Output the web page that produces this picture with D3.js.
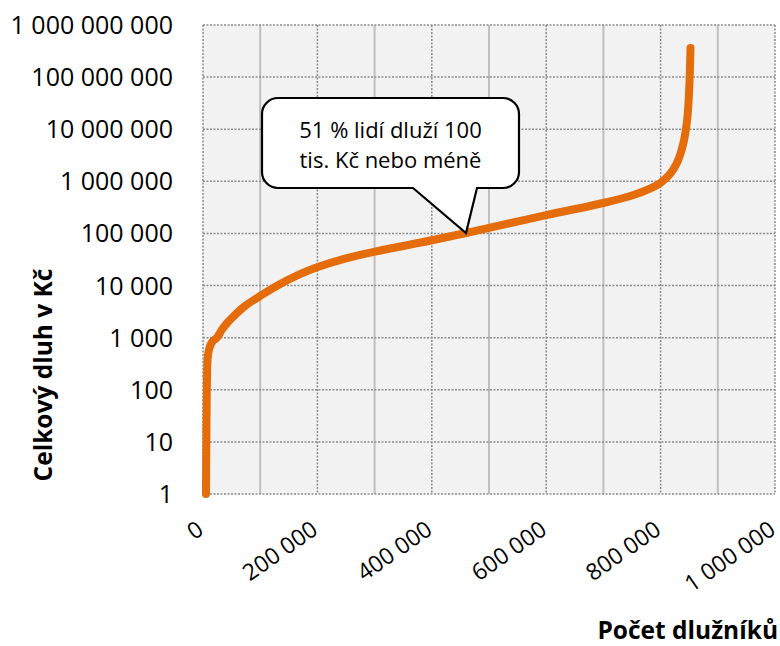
<!DOCTYPE html>
<html>
<head>
<meta charset="utf-8">
<script src="https://cdn.jsdelivr.net/npm/d3@7"></script>
<style>
  html, body { margin: 0; padding: 0; background: #ffffff; }
  svg { display: block; font-family: "Open Sans", "Noto Sans", sans-serif; }
</style>
</head>
<body>
<svg id="chart" width="780" height="646"></svg>
<script>
// ---- data ----
const debtorCount = [5200, 6000, 7000, 8700, 13000, 17500, 24500, 33200, 43700, 57700, 73400, 99700, 131000, 169600, 199300, 248300, 300700, 400300, 459800, 500000, 600000, 700000, 750000, 781500, 799000, 816400, 828700, 839200, 846200, 849700, 852300];
const totalDebt   = [1, 17, 155, 465, 720, 870, 1000, 1435, 2000, 2850, 4050, 6300, 10170, 16500, 22400, 32900, 44700, 73900, 102000, 128000, 224000, 384000, 535000, 721000, 919000, 1380000, 2270000, 5020000, 14500000, 50000000, 363000000];

const xTickValues = [0, 200000, 400000, 600000, 800000, 1000000];
const xMinorValues = [100000, 300000, 500000, 700000, 900000];
const yTickValues = [1, 10, 100, 1000, 10000, 100000, 1000000, 10000000, 100000000, 1000000000];

const xTitle = "Počet dlužníků";
const yTitle = "Celkový dluh v Kč";
const calloutLines = ["51 % lidí dluží 100", "tis. Kč nebo méně"];
const calloutPoint = [459800, 102000];

// ---- setup ----
const svg = d3.select("#chart");
const locale = d3.formatLocale({ decimal: ",", thousands: "\u00a0", grouping: [3], currency: ["", " Kč"] });
const fmt = locale.format(",d");

const x = d3.scaleLinear().domain([0, 1000000]).range([203, 775]);
const y = d3.scaleLog().domain([1, 1000000000]).range([494, 25]);

const [x0, x1] = x.range();
const [yb, yt] = y.range();

// plot background
svg.append("rect").attr("x", x0).attr("y", yt).attr("width", x1 - x0).attr("height", yb - yt).attr("fill", "#f2f2f2");

// minor vertical gridlines (solid)
svg.append("g").selectAll("line").data(xMinorValues).join("line")
  .attr("x1", d => x(d)).attr("x2", d => x(d)).attr("y1", yt).attr("y2", yb)
  .attr("stroke", "#bfbfbf").attr("stroke-width", 2);

// major vertical gridlines (dotted)
svg.append("g").selectAll("line").data(xTickValues).join("line")
  .attr("x1", d => x(d)).attr("x2", d => x(d)).attr("y1", yt).attr("y2", yb)
  .attr("stroke", "#8c8c8c").attr("stroke-width", 1.5).attr("stroke-dasharray", "2,1.5");

// horizontal gridlines (dotted)
svg.append("g").selectAll("line").data(yTickValues).join("line")
  .attr("x1", x0).attr("x2", x1).attr("y1", d => y(d)).attr("y2", d => y(d))
  .attr("stroke", "#8c8c8c").attr("stroke-width", 1.5).attr("stroke-dasharray", "2,1.5");

// y tick labels
svg.append("g").selectAll("text").data(yTickValues).join("text")
  .attr("x", 173).attr("y", d => y(d)).attr("dy", "0.36em")
  .attr("text-anchor", "end").attr("font-size", 25).attr("fill", "#000")
  .text(d => fmt(d));

// x tick labels (rotated)
svg.append("g").selectAll("text").data(xTickValues).join("text")
  .attr("transform", d => `translate(${x(d) + 2},533) rotate(-35)`)
  .attr("text-anchor", "end").attr("font-size", 23).attr("fill", "#000")
  .text(d => fmt(d));

// axis titles
svg.append("text").attr("transform", "translate(52,375) rotate(-90)")
  .attr("text-anchor", "middle").attr("font-size", 24.5).attr("font-weight", "bold")
  .text(yTitle);
svg.append("text").attr("x", 778).attr("y", 639)
  .attr("text-anchor", "end").attr("font-size", 24.5).attr("font-weight", "bold")
  .text(xTitle);

// curve
const data = debtorCount.map((c, i) => [c, totalDebt[i]]);
const line = d3.line().x(d => x(d[0])).y(d => y(d[1])).curve(d3.curveCatmullRom.alpha(0.5));
svg.append("path").datum(data).attr("d", line)
  .attr("fill", "none").attr("stroke", "#e46c0a").attr("stroke-width", 8)
  .attr("stroke-linecap", "round").attr("stroke-linejoin", "round");

// callout
const bx0 = 262, by0 = 98, bx1 = 519, by1 = 188, r = 16;
const tipX = x(calloutPoint[0]), tipY = y(calloutPoint[1]);
const pA = 413, pB = 477;
const p = d3.path();
p.moveTo(bx0 + r, by0);
p.lineTo(bx1 - r, by0);
p.arcTo(bx1, by0, bx1, by0 + r, r);
p.lineTo(bx1, by1 - r);
p.arcTo(bx1, by1, bx1 - r, by1, r);
p.lineTo(pB, by1);
p.lineTo(tipX, tipY);
p.lineTo(pA, by1);
p.lineTo(bx0 + r, by1);
p.arcTo(bx0, by1, bx0, by1 - r, r);
p.lineTo(bx0, by0 + r);
p.arcTo(bx0, by0, bx0 + r, by0, r);
p.closePath();
svg.append("path").attr("d", p.toString()).attr("fill", "#fff")
  .attr("stroke", "#000").attr("stroke-width", 2.2).attr("stroke-linejoin", "miter");

svg.append("g").selectAll("text").data(calloutLines).join("text")
  .attr("x", (bx0 + bx1) / 2).attr("y", (d, i) => 138 + i * 30)
  .attr("text-anchor", "middle").attr("font-size", 22).attr("fill", "#000")
  .text(d => d);
</script>
</body>
</html>
